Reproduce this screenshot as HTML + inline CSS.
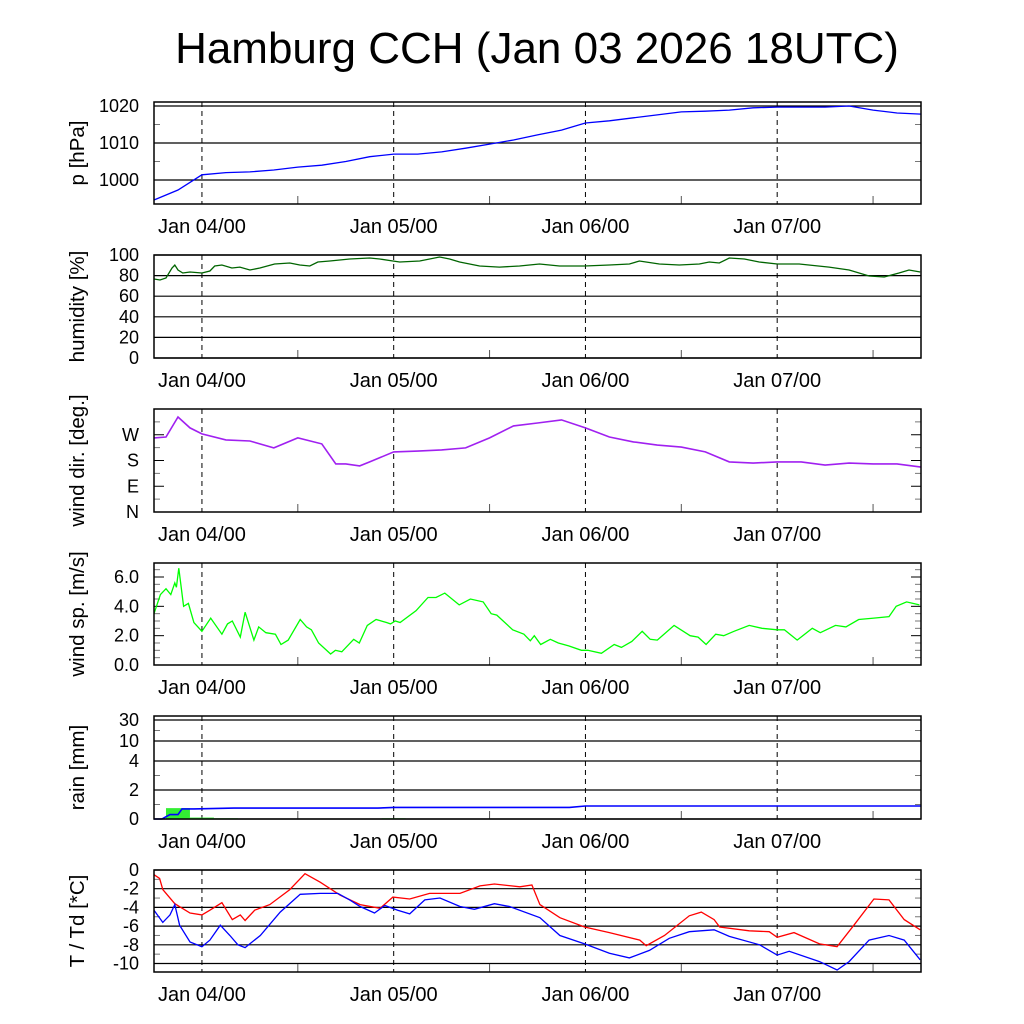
<!DOCTYPE html>
<html><head><meta charset="utf-8">
<style>
html,body{margin:0;padding:0;background:#fff;}
svg{display:block;font-family:"Liberation Sans",sans-serif;}
</style></head>
<body>
<svg id="chart" width="1024" height="1024" viewBox="0 0 1024 1024" xmlns="http://www.w3.org/2000/svg">
<rect width="1024" height="1024" fill="#fff"/>
<text x="537" y="63" font-size="44" text-anchor="middle">Hamburg CCH (Jan 03 2026 18UTC)</text>
</svg>
<script>
// ---- data (hours relative to Jan 04 00UTC) ----
const dayLabels = ["Jan 04/00","Jan 05/00","Jan 06/00","Jan 07/00"];
const dayHours = [0,24,48,72];

const presHours = [-6,-3,0,3,6,9,12,15,18,21,24,27,30,33,36,39,42,45,48,51,54,57,60,63,66,69,72,75,78,81,84,87,90];
const presVals = [994.6,997.3,1001.4,1002,1002.2,1002.7,1003.5,1004,1005,1006.3,1007,1007,1007.6,1008.6,1009.7,1010.8,1012.2,1013.5,1015.4,1016,1016.8,1017.6,1018.4,1018.6,1018.9,1019.5,1019.7,1019.7,1019.7,1020,1018.9,1018.1,1017.8];

const humHours = [-6,-5.25,-4.5,-3.75,-3.4,-3,-2.4,-1.5,0,1,1.6,2.5,3.75,4.75,6,7.25,9.1,11,12.25,13.5,14.5,16,18.5,21,22.25,23.9,24.75,27.25,29.75,31,32.25,34.75,37.25,39.75,42.25,44.75,47.9,51,53.5,54.75,57.25,59.75,62.25,63.5,64.75,66,67.9,69.75,72,74.75,78.5,81,83.5,85.4,87.25,88.5,89.9];
const humVals = [76.7,75.7,77.7,87.4,90.3,85.4,82.5,83.5,82.5,84.5,89.3,90.3,87.4,88.3,85.4,87.4,91.3,92.2,90.3,89.3,93.2,94.2,96.1,97.1,96.1,94.2,93.2,94.2,98.1,96.1,93.2,89.3,88.3,89.3,91.3,89.3,89.3,90.3,91.3,94.2,91.3,90.3,91.3,93.2,92.2,97.1,96.1,93.2,91.3,91.3,88.3,85.4,79.6,78.6,82.5,85.4,83.5];

const dirHours = [-6,-4.5,-3,-1.5,0,3,6,9,12,15,16.75,18,19.75,21,24,27,30,33,36,39,42,45,48,51,54,57,60,63,66,69,72,75,78,81,84,87,90];
const dirVals = [259,262,332,294,273,252,248,224,259,238,168,168,161,175,210,213,217,224,259,301,311,322,294,262,245,234,227,210,175,171,175,175,164,171,168,168,157];

const windHours = [-6,-5.2,-4.5,-3.9,-3.4,-3.2,-2.9,-2.3,-1.7,-1.0,0,1.1,2.5,3.2,3.8,4.8,5.4,6.5,7.1,8.0,9.2,9.9,10.8,12.3,13.1,13.7,14.6,16.1,16.7,17.5,19.0,19.7,20.7,21.8,23.1,23.6,24.2,24.8,26.8,28.3,29.3,30.4,32.2,33.6,35.2,36.2,36.9,38.9,40.3,41.1,41.6,42.4,43.6,44.6,45.9,47.5,48.3,50.0,51.6,52.5,53.8,55.1,56.1,57.0,59.1,61.1,62.1,63.1,64.3,65.3,66.6,68.5,70.1,72.0,72.9,74.5,76.4,77.4,79.3,80.6,82.2,84.1,86.0,86.9,88.2,89.8];
const windVals = [3.5,4.8,5.2,4.8,5.6,5.3,6.6,4.0,4.2,2.9,2.3,3.2,2.1,2.8,3.0,1.9,3.6,1.7,2.6,2.2,2.1,1.4,1.7,3.1,2.6,2.4,1.5,0.75,1.0,0.9,1.75,1.5,2.7,3.1,2.9,2.8,3.0,2.9,3.7,4.6,4.6,4.9,4.1,4.5,4.3,3.5,3.4,2.4,2.1,1.65,2.0,1.4,1.75,1.5,1.3,1.0,1.0,0.8,1.4,1.2,1.6,2.3,1.75,1.7,2.7,2.0,1.9,1.4,2.1,2.0,2.3,2.7,2.5,2.4,2.4,1.7,2.5,2.2,2.7,2.6,3.1,3.2,3.3,4.0,4.3,4.1];

const rainCumHours = [-6,-5,-4,-3.5,-3,-2.5,-1,4,22,24,46,48,90];
const rainCumVals = [0,0,0.3,0.3,0.3,0.7,0.7,0.75,0.75,0.8,0.8,0.9,0.9];
const rainBarStart = [-4.5,-1.5,1.5,22.5];
const rainBarVals = [0.75,0.1,0.05,0.05];

const tHours = [-6,-5.3,-4.9,-3.4,-1.5,0,1,2.5,3.8,4.8,5.4,6.6,8.5,11,12.9,14.8,17.3,19.8,22.3,23.9,26,28.5,32.3,34.8,36.6,39.8,41.3,42.3,44.8,47.9,51,54.8,55.6,57.9,61,62.5,64.1,64.8,68.5,71,72,74.1,77.3,79.5,81.6,84.1,86,87.9,89.9];
const tVals = [-0.5,-0.9,-2.1,-3.6,-4.6,-4.8,-4.3,-3.5,-5.3,-4.8,-5.4,-4.3,-3.7,-2.1,-0.4,-1.3,-2.7,-3.7,-4.1,-2.9,-3.1,-2.5,-2.5,-1.7,-1.5,-1.8,-1.6,-3.7,-5.1,-6.1,-6.7,-7.5,-8.1,-7.0,-4.9,-4.5,-5.3,-6.1,-6.5,-6.6,-7.2,-6.7,-7.9,-8.2,-5.9,-3.1,-3.2,-5.3,-6.4];
const tdHours = [-6,-4.9,-4,-3.4,-2.8,-1.5,0,1,2.3,3.5,4.5,5.4,7.3,9.8,12.3,14.8,17,18.5,19.8,21.6,22.9,24.5,26,27.9,29.8,32.3,34.1,36.6,38.5,42.3,44.8,47.9,51,53.5,56,58.5,61,64.1,66,69.8,72,73.5,77.3,79.5,81,83.5,86,87.9,89.9];
const tdVals = [-4.3,-5.6,-4.8,-3.7,-5.9,-7.7,-8.2,-7.5,-5.9,-7.0,-8.0,-8.3,-7.0,-4.5,-2.6,-2.5,-2.5,-3.2,-3.9,-4.6,-3.8,-4.3,-4.7,-3.2,-3.0,-3.9,-4.2,-3.6,-3.9,-5.1,-7.0,-7.9,-8.9,-9.4,-8.6,-7.3,-6.6,-6.4,-7.1,-8.0,-9.1,-8.7,-9.8,-10.7,-9.8,-7.5,-7.0,-7.5,-9.6];

// ---- rendering ----
const svg = document.getElementById('chart');
const NS = 'http://www.w3.org/2000/svg';
const X0 = 154, X1 = 921, H0 = -6, H1 = 90;
function xh(h){ return X0 + (h - H0) * (X1 - X0) / (H1 - H0); }
function mk(tag, attrs){ const e = document.createElementNS(NS, tag); for (const k in attrs) e.setAttribute(k, attrs[k]); svg.appendChild(e); return e; }
function linScale(v0, y0, v1, y1){ return v => y0 + (v - v0) * (y1 - y0) / (v1 - v0); }
function pwScale(vs, ys){ return v => { for (let i = 0; i < vs.length - 1; i++){ if (v <= vs[i+1]) return ys[i] + (v - vs[i]) * (ys[i+1] - ys[i]) / (vs[i+1] - vs[i]); } return ys[ys.length-1]; }; }

function panel(o){
  const {top, bot, name, ylabel, ticks, labels, grid, yf, minor} = o;
  ticks.forEach((t, i) => {
    const y = yf(t);
    if (grid){ const g = mk('line', {x1:X0, x2:X1, y1:y, y2:y, stroke:'#000', 'stroke-width':1.2});
      
       }
    else {
      mk('line', {x1:X0, x2:X0+10, y1:y, y2:y, stroke:'#000', 'stroke-width':1});
      mk('line', {x1:X1-10, x2:X1, y1:y, y2:y, stroke:'#000', 'stroke-width':1});
    }
    const tl = mk('text', {x:139, y:y+6, 'font-size':18, 'text-anchor':'end'});
    tl.textContent = labels[i];
    
    
  });
  (minor || []).forEach(m => {
    const y = yf(m);
    mk('line', {x1:X0, x2:X0+6, y1:y, y2:y, stroke:'#777', 'stroke-width':1});
    mk('line', {x1:X1-6, x2:X1, y1:y, y2:y, stroke:'#777', 'stroke-width':1});
  });
  dayHours.forEach((d, i) => {
    const x = xh(d);
    const dl = mk('line', {x1:x, x2:x, y1:top, y2:bot, stroke:'#000', 'stroke-width':1, 'stroke-dasharray':'5,4'});
    
    
    const xl = mk('text', {x:x, y:bot+29, 'font-size':20, 'text-anchor':'middle'});
    xl.textContent = dayLabels[i];
    
    
  });
  for (let h = 12; h < H1; h += 24){
    const x = xh(h);
    mk('line', {x1:x, x2:x, y1:bot-8, y2:bot, stroke:'#555', 'stroke-width':1});
  }
  const yl = mk('text', {x:0, y:0, 'font-size':20.5, 'text-anchor':'middle', transform:`translate(84,${(top+bot)/2}) rotate(-90)`});
  yl.textContent = ylabel;
  
  
}
function frame(top, bot, name){
  const r = mk('rect', {x:X0, y:top, width:X1-X0, height:bot-top, fill:'none', stroke:'#000', 'stroke-width':1.5});
  
  
}
function series(hours, vals, yf, color, name, w){
  const pts = hours.map((h, i) => xh(h).toFixed(1) + ',' + yf(vals[i]).toFixed(1)).join(' ');
  const p = mk('polyline', {points:pts, fill:'none', stroke:color, 'stroke-width':w || 1.3});
  
  
}

const yP = linScale(1000, 180, 1020, 106);
panel({top:102, bot:204, name:'pressure', ylabel:'p [hPa]', ticks:[1000,1010,1020], labels:['1000','1010','1020'], grid:true, yf:yP, minor:[1005,1015]});
series(presHours, presVals, yP, '#0000ff', 'pressure-line');
frame(102, 204, 'pressure');

const yH = linScale(0, 358, 100, 255);
panel({top:255, bot:358, name:'humidity', ylabel:'humidity [%]', ticks:[0,20,40,60,80,100], labels:['0','20','40','60','80','100'], grid:true, yf:yH});
series(humHours, humVals, yH, '#006400', 'humidity-line');
frame(255, 358, 'humidity');

const yD = linScale(0, 512, 360, 409);
panel({top:409, bot:512, name:'wind-dir', ylabel:'wind dir. [deg.]', ticks:[0,90,180,270], labels:['N','E','S','W'], grid:false, yf:yD, minor:[45,135,225,315]});
series(dirHours, dirVals, yD, '#a020f0', 'wind-dir-line', 1.6);
frame(409, 512, 'wind-dir');

const yW = linScale(0, 665, 6, 577);
panel({top:563, bot:665, name:'wind-speed', ylabel:'wind sp. [m/s]', ticks:[0,2,4,6], labels:['0.0','2.0','4.0','6.0'], grid:false, yf:yW, minor:[0.5,1,1.5,2.5,3,3.5,4.5,5,5.5,6.5]});
series(windHours, windVals, yW, '#00ff00', 'wind-speed-line');
frame(563, 665, 'wind-speed');

const yR = pwScale([0,2,4,10,30,40], [819,790,761,741,720,716]);
panel({top:716, bot:819, name:'rain', ylabel:'rain [mm]', ticks:[0,2,4,10,30], labels:['0','2','4','10','30'], grid:true, yf:yR, minor:[1,3,20]});
rainBarStart.forEach((s, i) => {
  const x = xh(s), w = xh(s+3) - x, y = yR(rainBarVals[i]);
  const b = mk('rect', {x:x, y:y, width:w, height:819-y, fill:'#33ee33'});
  
  
});
series(rainCumHours, rainCumVals, yR, '#0000ff', 'rain-cumulative-line', 1.6);
frame(716, 819, 'rain');

const yT = linScale(0, 870, -10, 963.5);
panel({top:870, bot:972, name:'temp', ylabel:'T / Td [*C]', ticks:[0,-2,-4,-6,-8,-10], labels:['0','-2','-4','-6','-8','-10'], grid:true, yf:yT, minor:[-1,-3,-5,-7,-9]});
series(tHours, tVals, yT, '#ff0000', 'temperature-line');
series(tdHours, tdVals, yT, '#0000ff', 'dewpoint-line');
frame(870, 972, 'temp');
</script>
</body></html>
